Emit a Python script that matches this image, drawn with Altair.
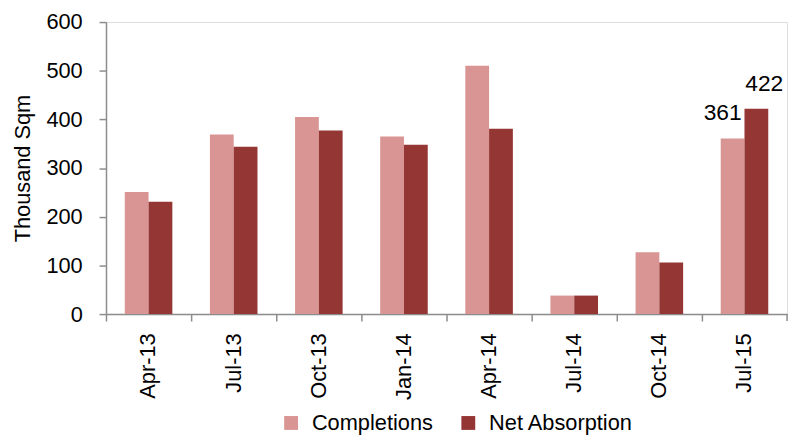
import altair as alt
import pandas as pd

quarters = ["Apr-13", "Jul-13", "Oct-13", "Jan-14", "Apr-14", "Jul-14", "Oct-14", "Jul-15"]
completions = [251, 369, 405, 365, 510, 38, 127, 361]
net_absorption = [231, 344, 377, 348, 381, 38, 106, 422]
series = ["Completions", "Net Absorption"]
colors = ["#D99594", "#943634"]

rows = []
for q, c, n in zip(quarters, completions, net_absorption):
    rows.append({"Quarter": q, "Series": series[0], "Value": c})
    rows.append({"Quarter": q, "Series": series[1], "Value": n})
df = pd.DataFrame(rows)

label_df = pd.DataFrame([
    {"Quarter": quarters[-1], "Series": series[0], "Value": completions[-1]},
    {"Quarter": quarters[-1], "Series": series[1], "Value": net_absorption[-1]},
])

FONT = "Liberation Sans"
AX = "#8c8c8c"

x_enc = alt.X("Quarter:N", sort=quarters, title=None,
              scale=alt.Scale(paddingInner=0, paddingOuter=0),
              axis=alt.Axis(labelAngle=-90, labelFontSize=22, labelColor="#000000",
                            labelFont=FONT, labelPadding=12, domainColor=AX,
                            tickColor=AX, tickSize=7, bandPosition=0,
                            labelAlign="right", labelBaseline="middle", grid=False,
                            domainWidth=1.5, tickWidth=1.5))
xoff = alt.XOffset("Series:N", sort=series,
                   scale=alt.Scale(paddingInner=0, paddingOuter=0.79))
y_enc = alt.Y("Value:Q", title="Thousand Sqm",
              scale=alt.Scale(domain=[0, 600], nice=False),
              axis=alt.Axis(values=[0, 100, 200, 300, 400, 500, 600], labelFontSize=22,
                            labelFont=FONT, labelColor="#000000", titleFont=FONT,
                            titleFontSize=22, titleFontWeight="normal", titleColor="#000000",
                            titlePadding=12, domainColor=AX, tickColor=AX,
                            tickSize=7, grid=False, labelPadding=17, domainWidth=1.5,
                            tickWidth=1.5))

bars = alt.Chart(df).mark_bar().encode(
    x=x_enc,
    xOffset=xoff,
    y=y_enc,
    color=alt.Color("Series:N", sort=series, title=None,
                    scale=alt.Scale(domain=series, range=colors),
                    legend=alt.Legend(orient="none", legendX=176, legendY=394,
                                      direction="horizontal", symbolType="square",
                                      symbolSize=196, symbolStrokeWidth=0,
                                      labelFontSize=22, labelFont=FONT,
                                      labelColor="#000000", columnPadding=24,
                                      labelOffset=10, labelLimit=300)),
)

text1 = alt.Chart(label_df[label_df.Series == series[0]]).mark_text(
    fontSize=23, font=FONT, color="#000000", dy=-19, dx=-10, baseline="alphabetic"
).encode(x=alt.X("Quarter:N", sort=quarters), xOffset=alt.XOffset("Series:N", sort=series),
         y="Value:Q", text="Value:Q")
text2 = alt.Chart(label_df[label_df.Series == series[1]]).mark_text(
    fontSize=23, font=FONT, color="#000000", dy=-18, dx=8, baseline="alphabetic"
).encode(x=alt.X("Quarter:N", sort=quarters), xOffset=alt.XOffset("Series:N", sort=series),
         y="Value:Q", text="Value:Q")

end_tick = alt.Chart(pd.DataFrame({"v": [0]})).mark_rule(color=AX, strokeWidth=1.5).encode(
    x=alt.value(688), y=alt.value(295), y2=alt.value(302))

chart = alt.layer(bars, text1, text2, end_tick).properties(
    width=688, height=295,
    autosize=alt.AutoSizeParams(type="none"),
    padding={"left": 99, "top": 12, "right": 5, "bottom": 125},
).configure_view(stroke=None).configure(background="#ffffff")

chart.save("out.html", embed_options={"renderer": "svg", "actions": False})
